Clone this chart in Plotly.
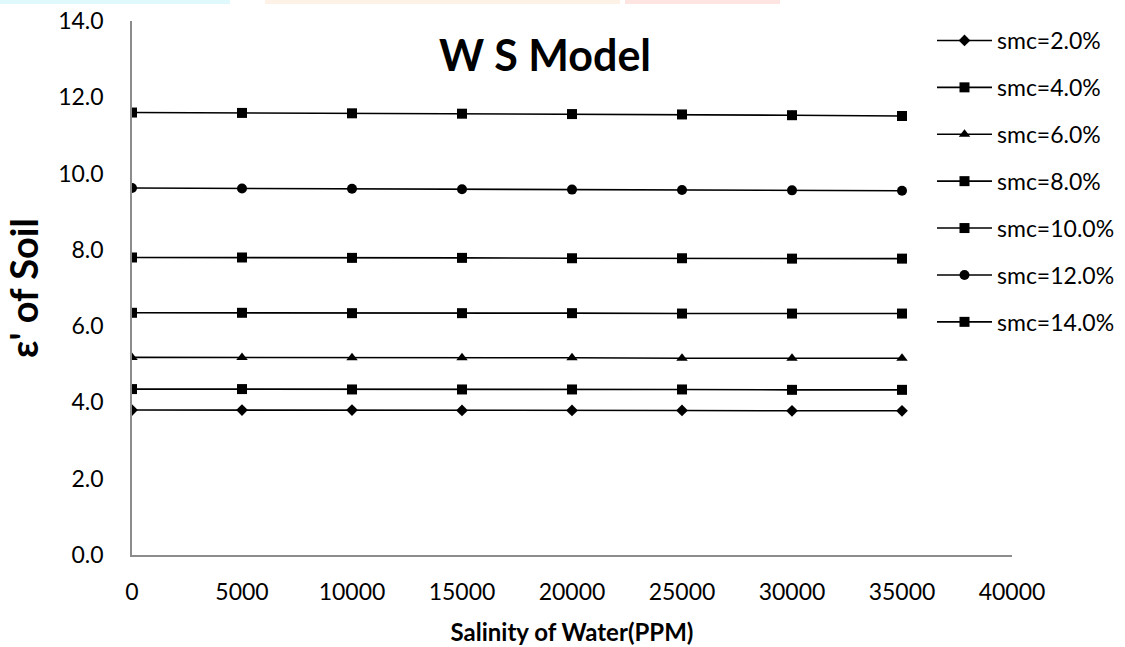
import plotly.graph_objects as go

salinity = [0, 5000, 10000, 15000, 20000, 25000, 30000, 35000]

smc_labels = ["smc=2.0%", "smc=4.0%", "smc=6.0%", "smc=8.0%", "smc=10.0%", "smc=12.0%", "smc=14.0%"]

eps_2 = [3.80, 3.80, 3.80, 3.79, 3.79, 3.79, 3.78, 3.78]
eps_4 = [4.35, 4.35, 4.34, 4.34, 4.34, 4.34, 4.33, 4.33]
eps_6 = [5.18, 5.18, 5.17, 5.17, 5.17, 5.16, 5.16, 5.16]
eps_8 = [6.35, 6.35, 6.34, 6.34, 6.34, 6.33, 6.33, 6.33]
eps_10 = [7.80, 7.80, 7.79, 7.79, 7.78, 7.78, 7.77, 7.77]
eps_12 = [9.62, 9.61, 9.60, 9.59, 9.58, 9.57, 9.56, 9.55]
eps_14 = [11.60, 11.59, 11.58, 11.57, 11.56, 11.55, 11.53, 11.51]

series = [eps_2, eps_4, eps_6, eps_8, eps_10, eps_12, eps_14]
symbols = ["diamond", "square", "triangle-up", "square", "square", "circle", "square"]
sizes = [9, 10, 10, 10, 10, 10, 10]

FONT = "Lato, 'Open Sans', sans-serif"

W, H = 1125, 647
ML, MR, MT, MB = 132, 113, 21, 92
PW, PH = W - ML - MR, H - MT - MB

fig = go.Figure()
for i, (lab, ys) in enumerate(zip(smc_labels, series)):
    fig.add_trace(go.Scatter(
        x=salinity, y=ys, name=lab, mode="lines+markers",
        line=dict(color="black", width=1.6),
        marker=dict(symbol=symbols[i], size=sizes[i], color="black"),
        legendgroup=f"g{i}",
    ))

# faint watermark strip along the top edge of the image
top = 1 + MT / PH
strip_y0 = 1 + (MT - 4) / PH
strip = [(0, 230, "rgba(150,235,248,0.30)"),
         (265, 620, "rgba(252,210,170,0.30)"),
         (625, 780, "rgba(252,170,160,0.30)")]
for x0, x1, c in strip:
    fig.add_shape(type="rect", xref="paper", yref="paper",
                  x0=(x0 - ML) / PW, x1=(x1 - ML) / PW,
                  y0=strip_y0, y1=top, line_width=0, fillcolor=c, layer="below")

fig.update_layout(
    width=W, height=H,
    margin=dict(l=ML, r=MR, t=MT, b=MB, autoexpand=False),
    paper_bgcolor="white", plot_bgcolor="white",
    font=dict(family=FONT, color="black", size=22),
    title=dict(text="<b>W S Model</b>", x=545 / W, xanchor="center",
               y=1 - 56 / H, yanchor="middle",
               font=dict(family=FONT, size=43, color="black")),
    xaxis=dict(range=[0, 40000], dtick=5000, tick0=0, tickformat="d", showgrid=False,
               showline=True, linecolor="#8c8c8c", linewidth=1.5,
               ticks="", zeroline=False, tickfont=dict(size=23), ticklabelstandoff=16,
               title=dict(text="<b>Salinity of Water(PPM)</b>", font=dict(size=24), standoff=20)),
    yaxis=dict(range=[0, 14], dtick=2, tickformat=".1f", showgrid=False,
               showline=True, linecolor="#8c8c8c", linewidth=1.5,
               ticks="", zeroline=False, tickfont=dict(size=23), ticklabelstandoff=22,
               title=dict(text="<b>ε' of Soil</b>", font=dict(size=38), standoff=14)),
    legend=dict(xref="container", yref="container",
                x=932 / W, xanchor="left",
                y=1 - 19 / H, yanchor="top",
                font=dict(size=23), bgcolor="rgba(0,0,0,0)",
                tracegroupgap=14, itemwidth=55, maxheight=600),
    showlegend=True,
)

fig.write_html("out.html", config={"displayModeBar": False},
               post_script="document.body.style.margin='0';")
